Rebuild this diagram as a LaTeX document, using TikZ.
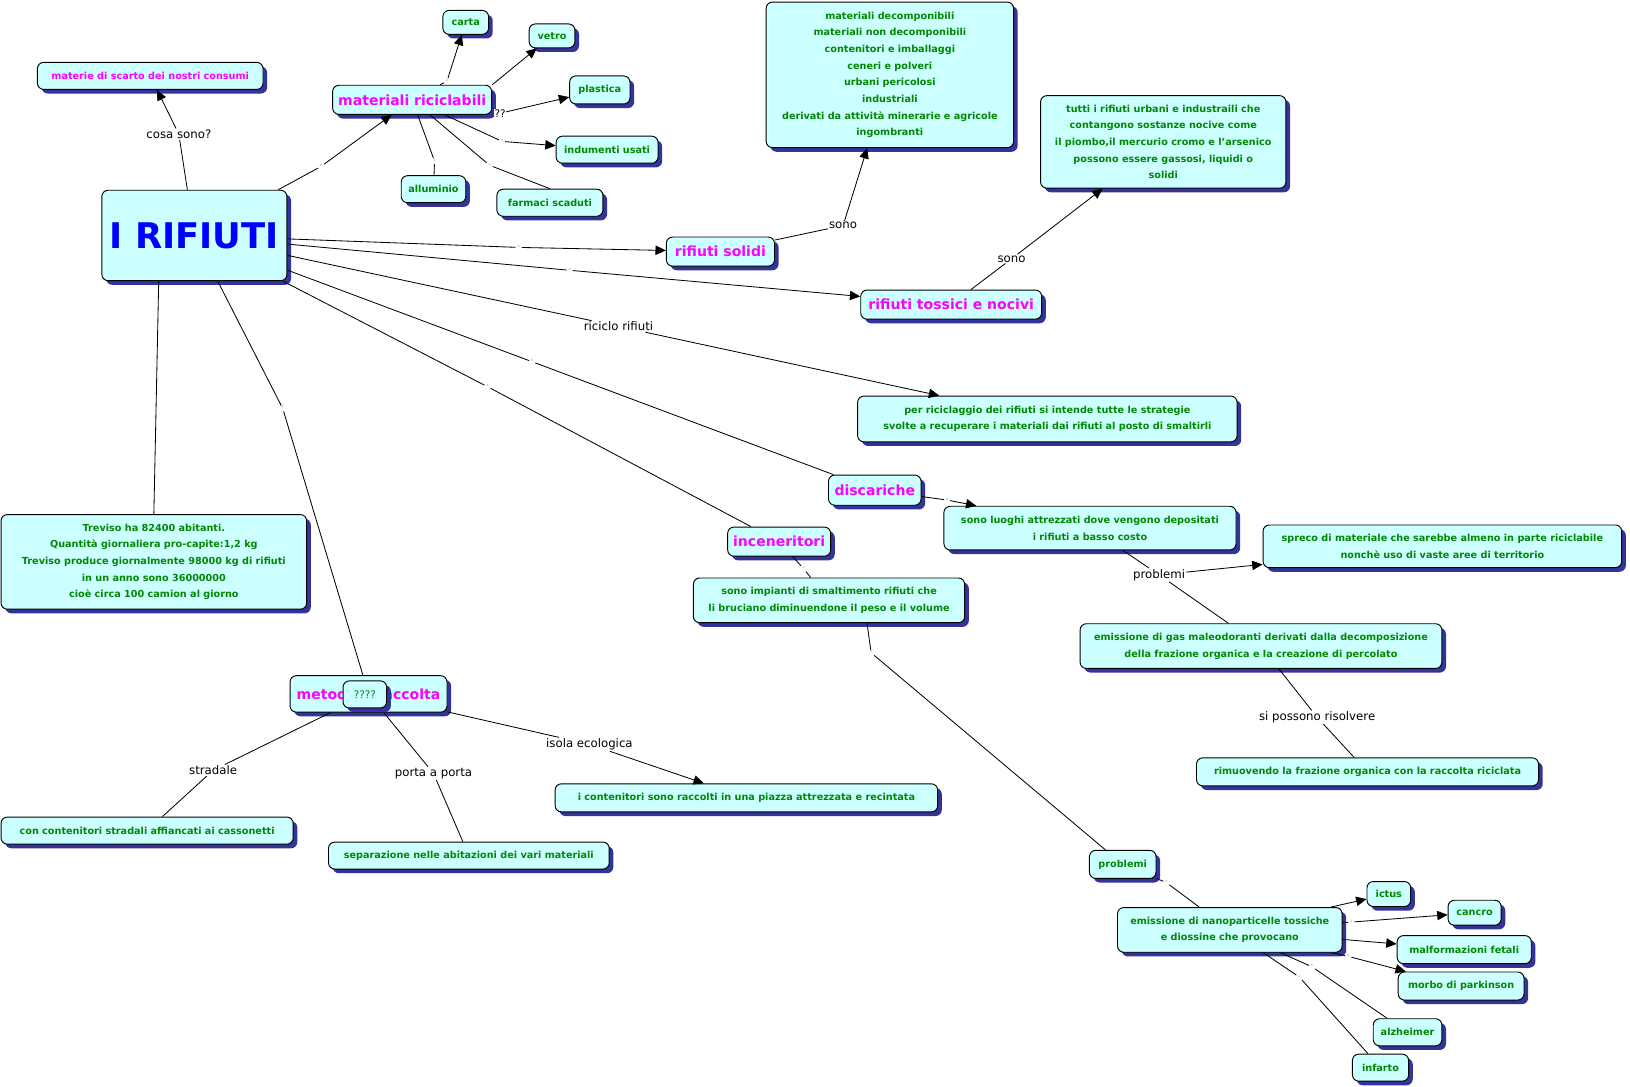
\documentclass[tikz,border=0pt]{standalone}
\usepackage{fontspec}
\setmainfont{DejaVu Sans}
\usetikzlibrary{arrows.meta,shadows}
\definecolor{cyanfill}{HTML}{CCFFFF}
\definecolor{shadowblue}{HTML}{333399}
\definecolor{cgreen}{HTML}{008800}
\definecolor{cmag}{HTML}{FF00FF}
\definecolor{cblue}{HTML}{0000FF}
\tikzset{
 concept/.style={draw=black, line width=0.9pt, rounded corners=6pt, fill=cyanfill, inner sep=0pt, align=center,
   general shadow={fill=shadowblue, shadow xshift=4pt, shadow yshift=-4pt}},
 sz/.style 2 args={minimum width=#1pt, minimum height=#2pt},
 gtxt/.style={concept, text=cgreen, font=\bfseries\fontsize{9.3}{16}\selectfont},
 mtxt/.style={concept, text=cmag, font=\bfseries\fontsize{13.5}{16}\selectfont},
 msmall/.style={concept, text=cmag, font=\bfseries\fontsize{9.3}{16}\selectfont},
 lbl/.style={fill=white, inner sep=1pt, text=black, font=\fontsize{11.3}{13}\selectfont},
 dl/.style={fill=white, inner sep=1.5pt, text=gray, font=\fontsize{7}{7}\selectfont},
 link/.style={line width=0.8pt, draw=black},
 arr/.style={link, -{Triangle[length=10pt,width=9pt]}},
}
\begin{document}
\begin{tikzpicture}[x=1pt,y=-1pt]
\fill[white] (0,0) rectangle (1568,1045);
\useasboundingbox (0,0) rectangle (1568,1045);

% concepts
\node[msmall, sz={217}{26}] (materie) at (144.5,73) {materie di scarto dei nostri consumi};
\node[gtxt, sz={44}{23}] (carta) at (448,21.5) {carta};
\node[gtxt, sz={44}{23}] (vetro) at (531,34.5) {vetro};
\node[mtxt, sz={153}{28}] (mat) at (396.5,96) {materiali riciclabili};
\node[gtxt, sz={58}{27}] (plastica) at (577,86.5) {plastica};
\node[gtxt, sz={98}{26}] (indu) at (584,144) {indumenti usati};
\node[gtxt, sz={62}{26}] (allu) at (417,182) {alluminio};
\node[gtxt, sz={102}{26}] (farm) at (529,195) {farmaci scaduti};
\node[concept, sz={178}{87}, text=cblue, font=\bfseries\fontsize{34}{40}\selectfont] (rif) at (187,226.5) {I RIFIUTI};
\node[gtxt, sz={238}{140}] (decomp) at (856,72) {materiali decomponibili\\materiali non decomponibili\\contenitori e imballaggi\\ceneri e polveri\\urbani pericolosi\\industriali\\derivati da attività minerarie e agricole\\ingombranti};
\node[mtxt, sz={104}{28}] (solidi) at (693,242) {rifiuti solidi};
\node[gtxt, sz={236}{89}] (tutti) at (1119,136.5) {tutti i rifiuti urbani e industraili che\\contangono sostanze nocive come\\il piombo,il mercurio cromo e l'arsenico\\possono essere gassosi, liquidi o\\solidi};
\node[mtxt, sz={174}{28}] (tossici) at (915,293) {rifiuti tossici e nocivi};
\node[gtxt, sz={365}{44}] (ricic) at (1007.5,403) {per riciclaggio dei rifiuti si intende tutte le strategie\\svolte a recuperare i materiali dai rifiuti al posto di smaltirli};
\node[mtxt, sz={89}{29}] (disc) at (841.5,471.5) {discariche};
\node[gtxt, sz={281}{42}] (luoghi) at (1048.5,508) {sono luoghi attrezzati dove vengono depositati\\i rifiuti a basso costo};
\node[gtxt, sz={345}{41}] (spreco) at (1387.5,525.5) {spreco di materiale che sarebbe almeno in parte riciclabile\\nonchè uso di vaste aree di territorio};
\node[mtxt, sz={99}{28}] (incen) at (749.5,521) {inceneritori};
\node[gtxt, sz={261}{43}] (imp) at (797.5,577.5) {sono impianti di smaltimento rifiuti che\\li bruciano diminuendone il peso e il volume};
\node[gtxt, sz={348}{43}] (gas) at (1213,621.5) {emissione di gas maleodoranti derivati dalla decomposizione\\della frazione organica e la creazione di percolato};
\node[gtxt, sz={329}{27}] (rimuov) at (1315.5,742.5) {rimuovendo la frazione organica con la raccolta riciclata};
\node[gtxt, sz={294}{91}] (trev) at (148,540.5) {Treviso ha 82400 abitanti.\\Quantità giornaliera pro-capite:1,2 kg\\Treviso produce giornalmente 98000 kg di rifiuti\\in un anno sono 36000000\\cioè circa 100 camion al giorno};
\node[mtxt, sz={151}{35}] (metodi) at (354.5,667.5) {metodi di raccolta};
\node[gtxt, sz={42}{26}, font=\fontsize{10}{12}\selectfont] (qq) at (351,668) {????};
\node[gtxt, sz={281}{26}] (strad) at (141.5,799) {con contenitori stradali affiancati ai cassonetti};
\node[gtxt, sz={270}{26}] (separ) at (451,823) {separazione nelle abitazioni dei vari materiali};
\node[gtxt, sz={368}{27}] (contenit) at (718,767.5) {i contenitori sono raccolti in una piazza attrezzata e recintata};
\node[gtxt, sz={64}{27}] (probl) at (1080,831.5) {problemi};
\node[gtxt, sz={216}{43}] (nano) at (1183,894.5) {emissione di nanoparticelle tossiche\\e diossine che provocano};
\node[gtxt, sz={42}{24}] (ictus) at (1336,860) {ictus};
\node[gtxt, sz={51}{24}] (cancro) at (1418.5,878) {cancro};
\node[gtxt, sz={129}{27}] (malf) at (1408.5,913.5) {malformazioni fetali};
\node[gtxt, sz={121}{27}] (park) at (1405.5,948.5) {morbo di parkinson};
\node[gtxt, sz={66}{26}] (alz) at (1354,993) {alzheimer};
\node[gtxt, sz={54}{26}] (inf) at (1328,1027) {infarto};

% linking phrases
\node[lbl] (lcosa) at (172,129) {cosa sono?};
\node[dl] (dmat) at (309,160) {-};
\node[dl] (dcarta) at (430,78) {-};
\node[lbl, font=\fontsize{10}{12}\selectfont, inner sep=0.5pt] (qplast) at (481,109) {??};
\node[dl] (dindu) at (483,136) {-};
\node[dl] (dallu) at (418,155) {-};
\node[dl] (dfarm) at (471,159) {-};
\node[dl] (dsol) at (499,238) {-};
\node[dl] (dtos) at (548,260) {-};
\node[lbl] (lric) at (595,314) {riciclo rifiuti};
\node[dl] (ddisc) at (512,348) {-};
\node[dl] (dinc) at (469,372) {-};
\node[dl] (dmet) at (272,393) {-};
\node[lbl] (lsono1) at (811,217) {sono};
\node[lbl] (lsono2) at (973,249) {sono};
\node[dl] (ddisc2) at (911,481) {-};
\node[lbl] (lprobl) at (1115,553) {problemi};
\node[lbl] (lrisol) at (1267,690) {si possono risolvere};
\node[dl] (dinc2) at (773,547) {-};
\node[dl] (dimp) at (838,628) {-};
\node[dl] (dprob) at (1122,849) {-};
\node[dl] (dcancro) at (1300,887) {-};
\node[dl] (dpark) at (1297,920) {-};
\node[dl] (dalz) at (1262,930) {-};
\node[dl] (dinf) at (1250,940) {-};
\node[lbl] (lstrad) at (205,741) {stradale};
\node[lbl] (lporta) at (417,744) {porta a porta};
\node[lbl] (lisola) at (567,716) {isola ecologica};

% connectors
\draw[link] (rif) -- (lcosa); \draw[arr] (lcosa) -- (materie);
\draw[link] (rif) -- (dmat); \draw[arr] (dmat) -- (mat);
\draw[link] (mat) -- (dcarta); \draw[arr] (dcarta) -- (carta);
\draw[arr] (mat.north east) -- (vetro);
\draw[arr] (qplast) -- (plastica);
\draw[link] (mat) -- (dindu); \draw[arr] (dindu) -- (indu);
\draw[link] (mat) -- (dallu); \draw[link] (dallu) -- (allu);
\draw[link] (mat) -- (dfarm); \draw[link] (dfarm) -- (farm.north);
\draw[link] (rif) -- (dsol); \draw[arr] (dsol) -- (solidi);
\draw[link] (rif) -- (dtos); \draw[arr] (dtos) -- (tossici);
\draw[link] (rif) -- (lric); \draw[arr] (lric) -- (ricic);
\draw[link] (rif) -- (ddisc); \draw[link] (ddisc) -- (disc);
\draw[link] (rif) -- (dinc); \draw[link] (dinc) -- (incen);
\draw[link] (rif.232) -- (trev.north);
\draw[link] (rif) -- (dmet); \draw[link] (dmet) -- (metodi);
\draw[link] (solidi) -- (lsono1); \draw[arr] (lsono1) -- (decomp);
\draw[link] (tossici) -- (lsono2); \draw[arr] (lsono2) -- (tutti);
\draw[link] (disc) -- (ddisc2); \draw[arr] (ddisc2) -- (luoghi);
\draw[link] (luoghi) -- (lprobl); \draw[arr] (lprobl) -- (spreco); \draw[link] (lprobl) -- (gas);
\draw[link] (gas) -- (lrisol); \draw[link] (lrisol) -- (rimuov);
\draw[link] (incen) -- (dinc2); \draw[link] (dinc2) -- (imp);
\draw[link] (imp.-31) -- (dimp); \draw[link] (dimp) -- (probl);
\draw[link] (probl) -- (dprob); \draw[link] (dprob) -- (nano);
\draw[arr] (nano) -- (ictus);
\draw[link] (nano) -- (dcancro); \draw[arr] (dcancro) -- (cancro);
\draw[arr] (nano) -- (malf);
\draw[link] (nano) -- (dpark); \draw[arr] (dpark) -- (park);
\draw[link] (nano) -- (dalz); \draw[link] (dalz) -- (alz);
\draw[link] (nano) -- (dinf); \draw[link] (dinf) -- (inf);
\draw[link] (metodi) -- (lstrad); \draw[link] (lstrad) -- (strad);
\draw[link] (metodi) -- (lporta); \draw[link] (lporta) -- (separ);
\draw[link] (metodi) -- (lisola); \draw[arr] (lisola) -- (contenit);
\end{tikzpicture}
\end{document}
